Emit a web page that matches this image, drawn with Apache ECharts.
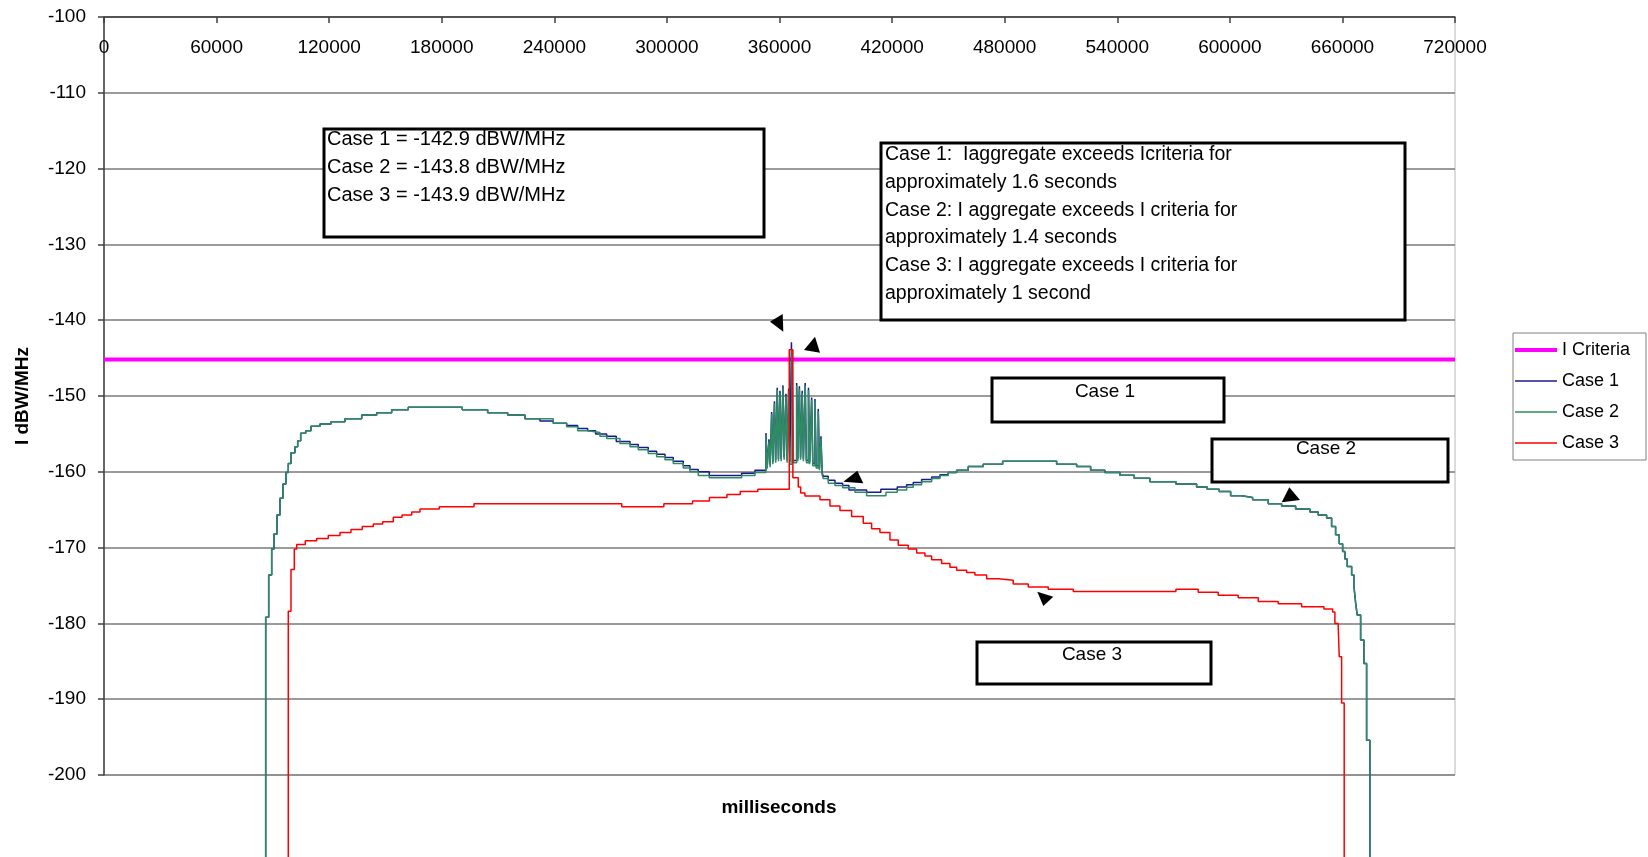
<!DOCTYPE html>
<html>
<head>
<meta charset="utf-8">
<title>I aggregate vs time</title>
<script src="https://cdn.jsdelivr.net/npm/echarts@6/dist/echarts.min.js"></script>
<style>
  html, body { margin: 0; padding: 0; background: #ffffff; }
  #chart { width: 1648px; height: 857px; }
</style>
</head>
<body>
<div id="chart"></div>
<script>
// Axis ticks
const xTicks = [0, 60000, 120000, 180000, 240000, 300000, 360000, 420000, 480000, 540000, 600000, 660000, 720000];
const yTicks = [-200, -190, -180, -170, -160, -150, -140, -130, -120, -110, -100];

// Interference criterion (dBW/MHz)
const criteriaLevel = -145.2;
const criteria = [[0, criteriaLevel], [720000, criteriaLevel]];

// [milliseconds, dBW/MHz] — each point starts a new level (step curves)
// Rise of the aggregate, identical for Case 1 and Case 2
const riseCommon = [
  [86170, -230], [86170, -179.2], [87770, -173.6], [89370, -170.2], [90600, -168.2],
  [92200, -165.7], [93790, -163.5], [95390, -161.6], [96990, -160.1], [98210, -158.9],
  [99650, -157.5], [101780, -156.7], [103220, -155.9], [104820, -154.9], [107490, -154.6],
  [110310, -154.0], [115110, -153.7], [120970, -153.4], [128430, -153.0], [137330, -152.5],
  [145320, -152.2], [153310, -151.8], [162160, -151.5], [190940, -151.8], [204470, -152.2],
  [215130, -152.5], [224350, -153.0]
];

// Case 2 middle section, including the oscillation near 366 s
const case2Mid = [
  [239430, -153.6], [246570, -154.05], [252430, -154.6], [257760, -154.8], [264320, -155.3],
  [267890, -155.6], [274980, -156.25], [280310, -156.7], [284730, -157.1], [290060, -157.6],
  [294530, -158.0], [298960, -158.4], [303380, -158.9], [308710, -159.5], [312280, -160.0],
  [316700, -160.5], [322560, -160.8], [339830, -160.5], [346920, -160.1],
  [352780, -155.2], [353420, -159.6], [354380, -156.0], [355020, -159.4],
  [355820, -152.4], [356460, -159.0], [357310, -151.0], [357950, -158.8],
  [358800, -149.2], [359440, -158.6], [360240, -149.6], [360880, -158.6],
  [361840, -148.9], [362480, -158.4], [363440, -150.0], [364080, -158.8],
  [364880, -149.3], [365520, -159.0], [366640, -143.8], [367440, -158.8],
  [369140, -148.6], [369780, -158.6], [370590, -149.0], [371230, -158.4],
  [372090, -149.6], [372730, -158.6], [373690, -148.6], [374330, -158.8],
  [375440, -149.2], [376080, -159.0], [377130, -150.5], [377770, -159.2],
  [378890, -150.7], [379530, -159.5], [380650, -152.0], [381290, -159.8],
  [382090, -155.6], [382730, -160.4],
  [383310, -160.9], [385980, -161.5], [389550, -161.8], [393650, -162.1], [400210, -162.7],
  [406440, -163.15], [416730, -162.7], [422750, -162.4], [427760, -162.05], [431280, -161.7],
  [435750, -161.3], [441080, -160.9], [445510, -160.5]
];

// Case 1 middle section
const case1Mid = [
  [232340, -153.3], [239430, -153.6], [246570, -153.9], [252430, -154.3], [257760, -154.6],
  [262000, -155.0], [267890, -155.3], [273000, -156.0], [280310, -156.4], [284730, -156.8],
  [290060, -157.3], [294530, -157.7], [298960, -158.1], [303380, -158.6], [308710, -159.2],
  [312280, -159.7], [316700, -160.0], [322560, -160.5], [339830, -160.2], [346920, -159.8],
  [352780, -154.9], [353420, -159.3], [354380, -155.7], [355020, -159.1],
  [355820, -152.1], [356460, -158.7], [357310, -150.7], [357950, -158.5],
  [358800, -148.9], [359440, -158.3], [360240, -149.3], [360880, -158.3],
  [361840, -148.6], [362480, -158.1], [363440, -149.7], [364080, -158.5],
  [364880, -149.0], [365520, -158.7], [366370, -142.9], [367170, -158.5],
  [369140, -148.3], [369780, -158.3], [370590, -148.7], [371230, -158.1],
  [372090, -149.3], [372730, -158.3], [373690, -148.3], [374330, -158.5],
  [375440, -148.9], [376080, -158.7], [377130, -150.2], [377770, -158.9],
  [378890, -150.4], [379530, -159.2], [380650, -151.7], [381290, -159.5],
  [382090, -155.3], [382730, -160.1],
  [383310, -160.6], [385980, -161.1], [389550, -161.5], [393650, -161.8], [397000, -162.4],
  [406440, -162.7], [414000, -162.3], [422750, -162.0], [427760, -161.7], [431280, -161.4],
  [435750, -161.0], [441080, -160.7], [445510, -160.4]
];

// Tail of the aggregate, identical for Case 1 and Case 2
const tailCommon = [
  [449930, -160.1], [454400, -159.8], [460590, -159.3], [468580, -159.0], [478920, -158.6],
  [507690, -159.0], [518350, -159.3], [525810, -159.8], [533430, -160.1], [541420, -160.45],
  [549050, -160.85], [557410, -161.3], [571270, -161.6], [582300, -162.0], [587950, -162.3],
  [594340, -162.6], [600420, -163.15], [606280, -163.4], [612140, -163.7], [620460, -164.2],
  [627600, -164.5], [635060, -164.9], [642680, -165.3], [647100, -165.7], [651580, -166.1],
  [654240, -167.2], [656370, -168.3], [658300, -169.5], [660110, -170.5], [661340, -171.5],
  [662570, -172.5], [664910, -173.6], [666130, -175.1], [667040, -177.3], [667890, -178.9],
  [669700, -182.2], [671450, -185.3], [672890, -187.5], [672890, -195.4], [674650, -230]
];

// Case 3
const case3 = [
  [98210, -230], [98210, -178.4], [99650, -172.9], [101410, -170.2], [102690, -169.6],
  [107270, -169.1], [113350, -168.8], [119530, -168.4], [125760, -168.0], [131630, -167.6],
  [137650, -167.2], [143510, -166.9], [148520, -166.6], [154170, -166.0], [158810, -165.7],
  [163980, -165.3], [168400, -164.9], [178690, -164.6], [197180, -164.2], [275940, -164.6],
  [298370, -164.2], [313670, -163.85], [322670, -163.4], [332000, -163.0], [339090, -162.6],
  [348460, -162.3], [365200, -143.9], [367120, -160.8], [370000, -162.0], [371270, -162.8],
  [373570, -163.2], [381560, -163.7], [386890, -164.5], [392220, -165.1], [398440, -165.9],
  [404640, -166.8], [409090, -167.5], [413530, -168.0], [418860, -169.0], [423290, -169.7],
  [428620, -170.2], [433080, -170.7], [437510, -171.1], [441080, -171.6], [446400, -172.1],
  [450830, -172.6], [454400, -173.0], [459730, -173.3], [464160, -173.6], [470390, -174.1],
  [476570, -174.3], [484570, -174.8], [492560, -175.2], [503220, -175.5], [516540, -175.8],
  [571270, -175.5], [583150, -175.9], [593810, -176.3], [604470, -176.6], [615130, -177.1],
  [625780, -177.4], [638250, -177.8], [650140, -178.1], [654770, -178.5], [656000, -180.0],
  [657760, -180.4], [658300, -184.4], [659570, -190.5], [660950, -192.3], [660950, -230]
];

const case1 = riseCommon.concat(case1Mid, tailCommon);
const case2 = riseCommon.concat(case2Mid, tailCommon);

const seriesNames = ['I Criteria', 'Case 1', 'Case 2', 'Case 3'];
const seriesColors = ['#ff00ff', '#1a1a8c', '#2e8b64', '#ff0000'];
const seriesWidths = [4, 1.5, 1.5, 1.5];

const FONT = 'Liberation Sans, Arial, sans-serif';

// Peak values and exceedance notes
const peakNotes = [
  'Case 1 = -142.9 dBW/MHz',
  'Case 2 = -143.8 dBW/MHz',
  'Case 3 = -143.9 dBW/MHz'
];
const exceedNotes = [
  'Case 1:  Iaggregate exceeds Icriteria for',
  'approximately 1.6 seconds',
  'Case 2: I aggregate exceeds I criteria for',
  'approximately 1.4 seconds',
  'Case 3: I aggregate exceeds I criteria for',
  'approximately 1 second'
];

function box(x, y, w, h) {
  return {
    type: 'rect', shape: { x: x, y: y, width: w, height: h },
    style: { fill: '#ffffff', stroke: '#000000', lineWidth: 3 }, z: 10
  };
}
function text(str, x, y, align, vAlign, extra) {
  return {
    type: 'text', z: 11,
    style: Object.assign({ text: str, x: x, y: y, fill: '#000', font: '19px ' + FONT,
                           textAlign: align, textVerticalAlign: vAlign }, extra || {})
  };
}
function arrow(points) {
  return { type: 'polygon', shape: { points: points }, style: { fill: '#000' }, z: 12 };
}

const chart = echarts.init(document.getElementById('chart'), null, { renderer: 'canvas' });

const lineSeries = (i, data, step) => ({
  name: seriesNames[i], type: 'line', data: data, step: step, showSymbol: false, symbol: 'none',
  clip: false, animation: false, color: seriesColors[i],
  lineStyle: { color: seriesColors[i], width: seriesWidths[i] }
});

const graphics = [
  box(324, 129, 440, 108),
  text(peakNotes.join('\n'), 327, 125, 'left', 'top', { lineHeight: 28, font: '20px ' + FONT }),
  box(881, 143, 524, 177),
  text(exceedNotes.join('\n'), 885, 141, 'left', 'top', { lineHeight: 27.7, font: '19.5px ' + FONT }),
  box(992, 378, 232, 44),
  text('Case 1', 1105, 392, 'center', 'middle'),
  box(1212, 439, 236, 43),
  text('Case 2', 1326, 449, 'center', 'middle'),
  box(977, 642, 234, 42),
  text('Case 3', 1092, 655, 'center', 'middle'),
  arrow([[770, 321.7], [782.7, 314], [783.3, 331.7]]),
  arrow([[804, 350], [820, 352.7], [815, 336.7]]),
  arrow([[843.3, 481.7], [863.3, 483.3], [857.3, 470.7]]),
  arrow([[1281.7, 502.3], [1300, 500], [1289.3, 487.3]]),
  arrow([[1037.3, 591.7], [1053.3, 596.7], [1043.3, 606]]),
  // axis titles
  text('milliseconds', 779, 808, 'center', 'middle', { font: 'bold 19px ' + FONT }),
  { type: 'text', z: 5, x: 23, y: 396, rotation: Math.PI / 2,
    style: { text: 'I dBW/MHz', x: 0, y: 0, fill: '#000', font: 'bold 19px ' + FONT,
             textAlign: 'center', textVerticalAlign: 'middle' } }
];

chart.setOption({
  animation: false,
  backgroundColor: '#ffffff',
  textStyle: { fontFamily: FONT },
  grid: { left: 104, right: 193, top: 17, bottom: 82, show: true, borderColor: '#b8b8b8', borderWidth: 1 },
  legend: {
    orient: 'vertical', left: 1513, top: 333,
    data: seriesNames.map((n, i) => ({
      name: n,
      itemStyle: { opacity: 0 },
      lineStyle: { color: seriesColors[i], width: seriesWidths[i], opacity: 1 }
    })),
    itemWidth: 42, itemHeight: 18, itemGap: 13,
    padding: [8, 16, 8, 0],
    borderColor: '#808080', borderWidth: 1, backgroundColor: '#fff',
    textStyle: { fontSize: 18, color: '#000', fontFamily: FONT }
  },
  xAxis: {
    type: 'value', position: 'top',
    min: xTicks[0], max: xTicks[xTicks.length - 1], interval: xTicks[1] - xTicks[0],
    axisLine: { onZero: false, lineStyle: { color: '#404040', width: 1.5 } },
    axisTick: { inside: true, length: 6, lineStyle: { color: '#404040', width: 1.5 } },
    axisLabel: { inside: true, margin: 21, fontSize: 19, color: '#000', fontFamily: FONT,
                 showMinLabel: true, showMaxLabel: true, formatter: v => String(v) },
    splitLine: { show: false }
  },
  yAxis: {
    type: 'value',
    min: yTicks[0], max: yTicks[yTicks.length - 1], interval: yTicks[1] - yTicks[0],
    axisLine: { show: true, onZero: false, lineStyle: { color: '#404040', width: 1.5 } },
    axisTick: { show: true, length: 6, lineStyle: { color: '#404040', width: 1.5 } },
    axisLabel: { margin: 18, fontSize: 19, color: '#000', fontFamily: FONT, formatter: v => String(v) },
    splitLine: { show: true, lineStyle: { color: '#7a7a7a', width: 1.5 } }
  },
  series: [
    lineSeries(0, criteria, false),
    lineSeries(1, case1, 'end'),
    lineSeries(2, case2, 'end'),
    lineSeries(3, case3, 'end')
  ],
  graphic: graphics
});
</script>
</body>
</html>
